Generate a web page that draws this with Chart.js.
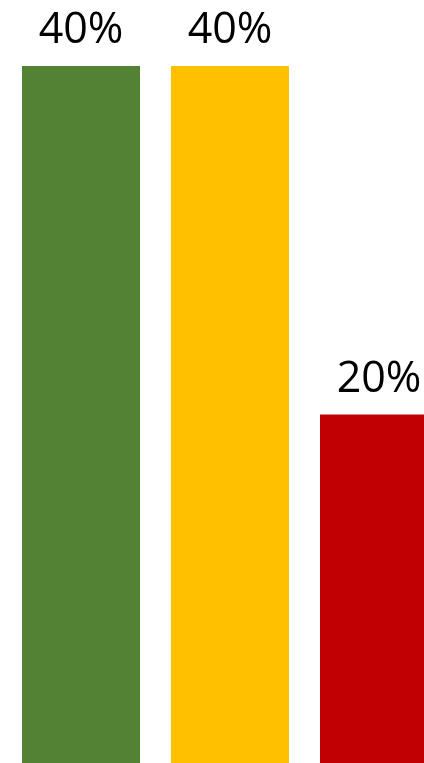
<!DOCTYPE html>
<html>
<head>
<meta charset="utf-8">
<script src="https://cdn.jsdelivr.net/npm/chart.js@4/dist/chart.umd.min.js"></script>
<style>
  html, body { margin: 0; padding: 0; background: #fff; overflow: hidden; width: 424px; height: 763px; }
  #wrap { position: absolute; left: 0; top: 0; width: 460px; height: 763px; }
</style>
</head>
<body>
<div id="wrap"><canvas id="c"></canvas></div>
<script>
const categories = ["A", "B", "C"];
const values = [40, 40, 20];
const valueLabels = ["40%", "40%", "20%"];
const barColors = ["#548235", "#FFC000", "#C00000"];

const labelPlugin = {
  id: 'valueLabels',
  afterDatasetsDraw(chart) {
    const ctx = chart.ctx;
    const meta = chart.getDatasetMeta(0);
    ctx.save();
    ctx.font = '43px "Open Sans", sans-serif';
    ctx.fillStyle = '#000';
    ctx.textAlign = 'center';
    ctx.textBaseline = 'alphabetic';
    meta.data.forEach((bar, i) => {
      ctx.fillText(valueLabels[i], bar.x, bar.y - 23);
    });
    ctx.restore();
  }
};

new Chart(document.getElementById('c'), {
  type: 'bar',
  data: {
    labels: categories,
    datasets: [{
      data: values,
      backgroundColor: barColors,
      borderWidth: 0,
      barPercentage: 0.792,
      categoryPercentage: 1.0
    }]
  },
  options: {
    responsive: true,
    maintainAspectRatio: false,
    animation: false,
    layout: { padding: { top: 66, bottom: 0, left: 6.5, right: 6.5 } },
    plugins: { legend: { display: false }, tooltip: { enabled: false } },
    scales: {
      x: { display: false },
      y: { display: false, min: 0, max: 40 }
    }
  },
  plugins: [labelPlugin]
});
</script>
</body>
</html>
